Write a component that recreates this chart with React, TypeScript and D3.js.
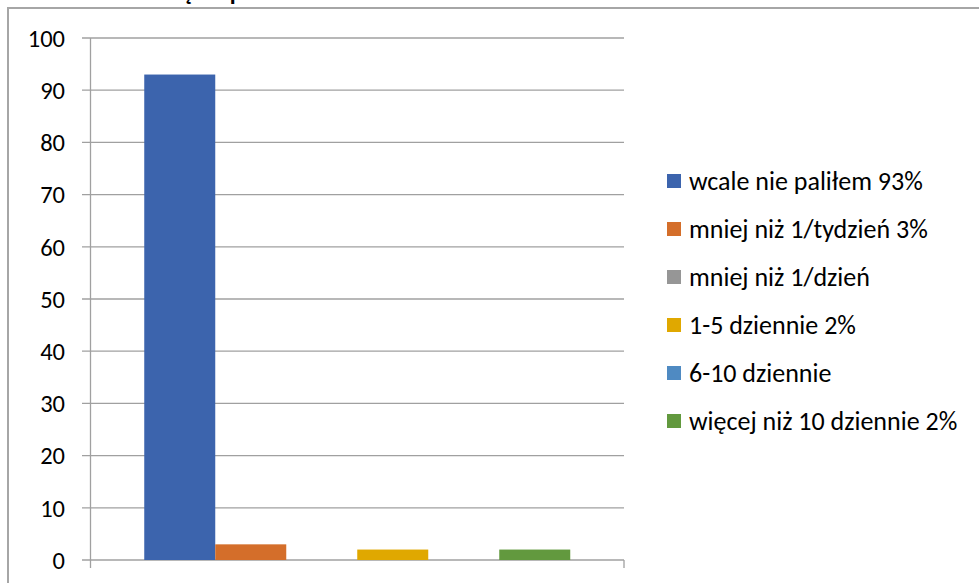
import React from "react";
import * as d3 from "d3";

const categories = ["Palenie"];
const seriesNames = [
  "wcale nie paliłem 93%",
  "mniej niż 1/tydzień 3%",
  "mniej niż 1/dzień",
  "1-5 dziennie 2%",
  "6-10 dziennie",
  "więcej niż 10 dziennie 2%",
];
const seriesValues = [93, 3, 0, 2, 0, 2];
const seriesColors = ["#3C64AD", "#D46E2A", "#969696", "#E0A800", "#4F8AC2", "#62993E"];
const yTicks = [0, 10, 20, 30, 40, 50, 60, 70, 80, 90, 100];
const titleText = "Jak często palisz?";

const W = 979;
const H = 587;
const FONT = "Carlito, Calibri, Lato, 'Open Sans', sans-serif";

export default function App() {
  const left = 90.5;
  const right = 624;
  const top = 38;
  const bottom = 560;

  const y = d3.scaleLinear().domain([0, 100]).range([bottom, top]);
  const x0 = d3.scaleBand<string>().domain(categories).range([left, right]).padding(0);
  const x1 = d3
    .scaleBand<string>()
    .domain(seriesNames)
    .range([0, x0.bandwidth()])
    .paddingInner(0)
    .paddingOuter(0.757);

  const legendX = 667;
  const legendY0 = 181;
  const legendStep = 48;

  return (
    <svg
      width={W}
      height={H}
      style={{ position: "absolute", left: 0, top: 0, background: "#fff" }}
      fontFamily={FONT}
    >
      {/* title (cut off at top of picture) */}
      <text x={126} y={-0.5} fontSize={24} fontWeight="bold" fill="#000">
        {titleText}
      </text>
      {/* chart frame */}
      <line x1={8} y1={8} x2={W} y2={8} stroke="#a6a6a6" strokeWidth={2} />
      <line x1={8} y1={7} x2={8} y2={583} stroke="#a6a6a6" strokeWidth={2} />

      {/* gridlines + y ticks */}
      {yTicks.map((t) => (
        <g key={t}>
          <line x1={82} x2={right} y1={y(t)} y2={y(t)} stroke="#a0a0a0" strokeWidth={1.3} />
          <text
            x={65}
            y={y(t)}
            dy="0.36em"
            textAnchor="end"
            fontSize={24.5}
            fill="#000"
          >
            {t}
          </text>
        </g>
      ))}
      {/* y axis line */}
      <line x1={left} x2={left} y1={top} y2={bottom + 8} stroke="#a0a0a0" strokeWidth={1.3} />
      {/* x axis right tick */}
      <line x1={right} x2={right} y1={bottom} y2={bottom + 8} stroke="#a0a0a0" strokeWidth={1.3} />

      {/* bars */}
      {categories.map((c) => (
        <g key={c} transform={`translate(${x0(c)},0)`}>
          {seriesNames.map((s, i) => (
            <rect
              key={s}
              x={x1(s)}
              y={y(seriesValues[i])}
              width={x1.bandwidth()}
              height={bottom - y(seriesValues[i])}
              fill={seriesColors[i]}
            />
          ))}
        </g>
      ))}

      {/* legend */}
      {seriesNames.map((s, i) => (
        <g key={s} transform={`translate(${legendX},${legendY0 + i * legendStep})`}>
          <rect x={0} y={-7} width={14} height={14} fill={seriesColors[i]} />
          <text x={22} y={0} dy="0.36em" fontSize={26} fill="#000">
            {s}
          </text>
        </g>
      ))}
    </svg>
  );
}
